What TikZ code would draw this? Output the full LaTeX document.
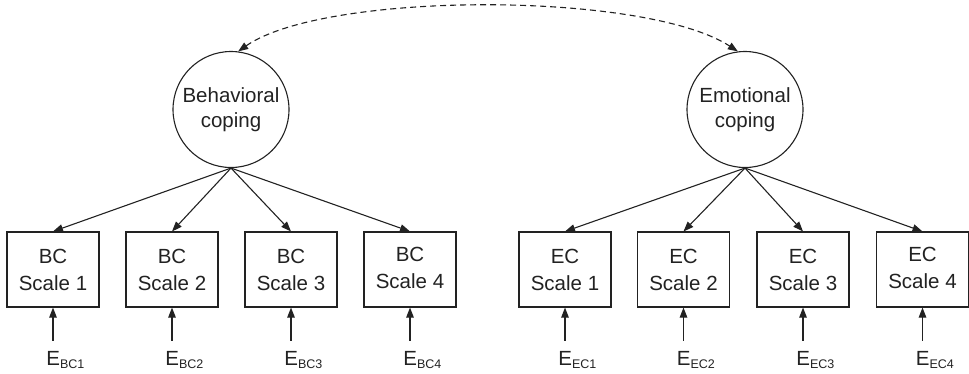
\documentclass[tikz,border=0pt]{standalone}
\usepackage{fontspec}
\setmainfont{Liberation Sans}
\usetikzlibrary{arrows.meta,calc}
\definecolor{ink}{HTML}{222222}
\newcommand{\subE}[1]{E{\fontsize{12.5}{12}\selectfont\raisebox{-3pt}{#1}}}
\begin{document}
\begin{tikzpicture}[x=1pt,y=-1pt,
  every node/.style={text=ink},
  latent/.style={draw=ink,line width=1.1pt,circle,minimum size=116pt,inner sep=0pt,
    align=center,font=\fontsize{20.5}{25.5}\selectfont},
  scalebox/.style={draw=ink,line width=1.1pt,rectangle,minimum width=92pt,minimum height=75pt,
    inner sep=0pt,align=center,font=\fontsize{20.5}{27}\selectfont},
  errlbl/.style={inner sep=0pt,anchor=base west,font=\fontsize{20.5}{24}\selectfont},
  load/.style={draw=ink,line width=1.1pt,-{Triangle[length=10pt,width=7.5pt]}},
  errarr/.style={load,shorten <=10pt},
  cov/.style={draw=ink,line width=1.1pt,dash pattern=on 6pt off 4pt,
    {Triangle[length=10pt,width=7.5pt]}-{Triangle[length=10pt,width=7.5pt]}}]
\useasboundingbox (0,0) rectangle (969,373);

% latent factors
\node[latent] (bc) at (231,109.5) {Behavioral\\coping};
\node[latent] (ec) at (745,109.5) {Emotional\\coping};

% indicator scales
\node[scalebox] (b1) at (53,269.5)  {BC\\Scale 1};
\node[scalebox] (b2) at (172,269.5) {BC\\Scale 2};
\node[scalebox] (b3) at (291,269.5) {BC\\Scale 3};
\node[scalebox] (b4) at (410,269.5) {\raisebox{2.5pt}{\begin{tabular}{@{}c@{}}BC\\Scale 4\end{tabular}}};
\node[scalebox] (e1) at (565,269.5) {EC\\Scale 1};
\node[scalebox] (e2) at (683.5,269.5) {EC\\Scale 2};
\node[scalebox] (e3) at (803,269.5) {EC\\Scale 3};
\node[scalebox] (e4) at (922.5,269.5) {\raisebox{2.5pt}{\begin{tabular}{@{}c@{}}EC\\Scale 4\end{tabular}}};

% error terms
\node[errlbl] (xb1) at (46.2,365)  {\subE{BC1}};
\node[errlbl] (xb2) at (165.2,365) {\subE{BC2}};
\node[errlbl] (xb3) at (284.2,365) {\subE{BC3}};
\node[errlbl] (xb4) at (403.2,365) {\subE{BC4}};
\node[errlbl] (xe1) at (558.2,365) {\subE{EC1}};
\node[errlbl] (xe2) at (676.7,365) {\subE{EC2}};
\node[errlbl] (xe3) at (796.2,365) {\subE{EC3}};
\node[errlbl] (xe4) at (915.7,365) {\subE{EC4}};

% factor loadings
\foreach \i in {1,2,3,4}{
  \draw[load] (bc.south) -- (b\i.north);
  \draw[load] (ec.south) -- (e\i.north);
  \draw[errarr] (b\i.south |- xb\i.north) -- (b\i.south);
  \draw[errarr] (e\i.south |- xe\i.north) -- (e\i.south);
}

% factor covariance
\draw[cov] (bc.83) .. controls (325,-9) and (645,-9) .. (ec.97);
\end{tikzpicture}
\end{document}
